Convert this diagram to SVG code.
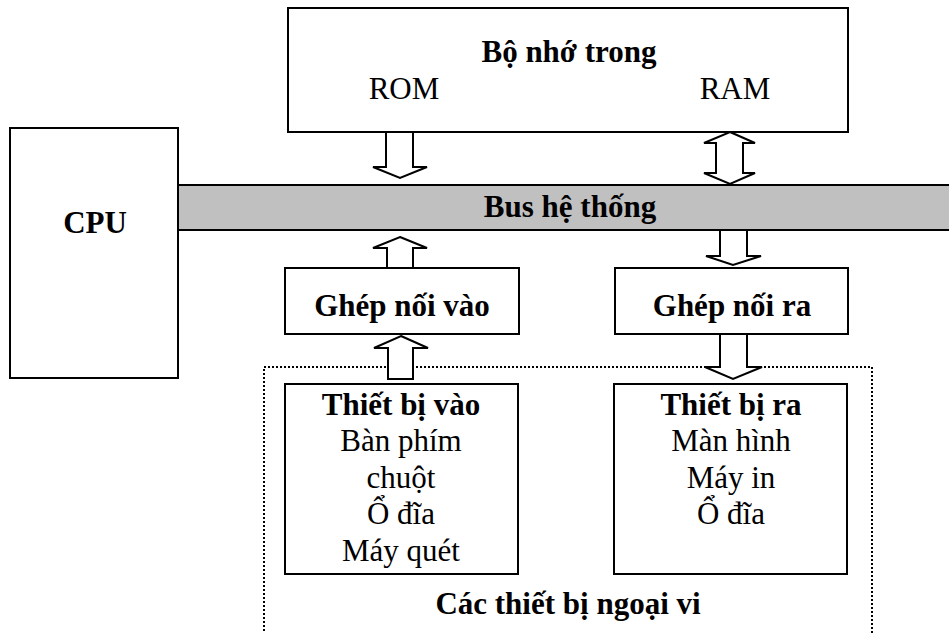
<svg xmlns="http://www.w3.org/2000/svg" width="949" height="633" viewBox="0 0 949 633">
<style>
.box{fill:#fff;stroke:#000;stroke-width:2}
.arr{fill:#fff;stroke:#000;stroke-width:2;stroke-linejoin:miter}
.t{font-family:"Liberation Serif","Times New Roman",serif;font-size:31px;text-anchor:middle;fill:#000}
.b{font-weight:bold}
</style>
<rect width="949" height="633" fill="#fff"/>
<g id="peripherals">
<rect x="264" y="367" width="608" height="280" fill="none" stroke="#000" stroke-width="2" stroke-dasharray="2 2"/>
<text class="t b" x="568" y="614">Các thiết bị ngoại vi</text>
</g>
<g id="memory">
<rect class="box" x="288" y="8" width="560" height="124"/>
<text class="t b" x="569" y="62">Bộ nhớ trong</text>
<text class="t" x="404" y="99">ROM</text>
<text class="t" x="735" y="99">RAM</text>
</g>
<g id="cpu">
<rect class="box" x="10" y="128" width="168" height="250"/>
<text class="t b" x="95" y="233">CPU</text>
</g>
<g id="bus">
<rect x="178" y="185" width="780" height="45" fill="#c0c0c0" stroke="#000" stroke-width="2"/>
<text class="t b" x="570" y="217">Bus hệ thống</text>
</g>
<g id="input-interface">
<rect class="box" x="285" y="268" width="234" height="66"/>
<text class="t b" x="402" y="316">Ghép nối vào</text>
</g>
<g id="output-interface">
<rect class="box" x="615" y="268" width="233" height="66"/>
<text class="t b" x="732" y="316">Ghép nối ra</text>
</g>
<g id="input-devices">
<rect class="box" x="285" y="384" width="233" height="190"/>
<text class="t b" x="401" y="415">Thiết bị vào</text>
<text class="t" x="401" y="451">Bàn phím</text>
<text class="t" x="401" y="488">chuột</text>
<text class="t" x="401" y="524">Ổ đĩa</text>
<text class="t" x="401" y="561">Máy quét</text>
</g>
<g id="output-devices">
<rect class="box" x="614" y="384" width="233" height="190"/>
<text class="t b" x="731" y="415">Thiết bị ra</text>
<text class="t" x="731" y="451">Màn hình</text>
<text class="t" x="731" y="488">Máy in</text>
<text class="t" x="731" y="524">Ổ đĩa</text>
</g>
<g id="connectors">
<polygon class="arr" points="386,132 413,132 413,167 427,167 400,178 373,167 386,167"/>
<polygon class="arr" points="730,132 755,143 743,143 743,173 755,173 730,184 704,173 716,173 716,143 704,143"/>
<polygon class="arr" points="400,237 427,248 413,248 413,268 387,268 387,248 373,248"/>
<polygon class="arr" points="401,336 428,348 413,348 413,379 388,379 388,348 374,348"/>
<polygon class="arr" points="720,230 747,230 747,256 761,256 733,265 706,256 720,256"/>
<polygon class="arr" points="720,334 747,334 747,367 762,367 733,379 705,367 720,367"/>
</g>
</svg>
